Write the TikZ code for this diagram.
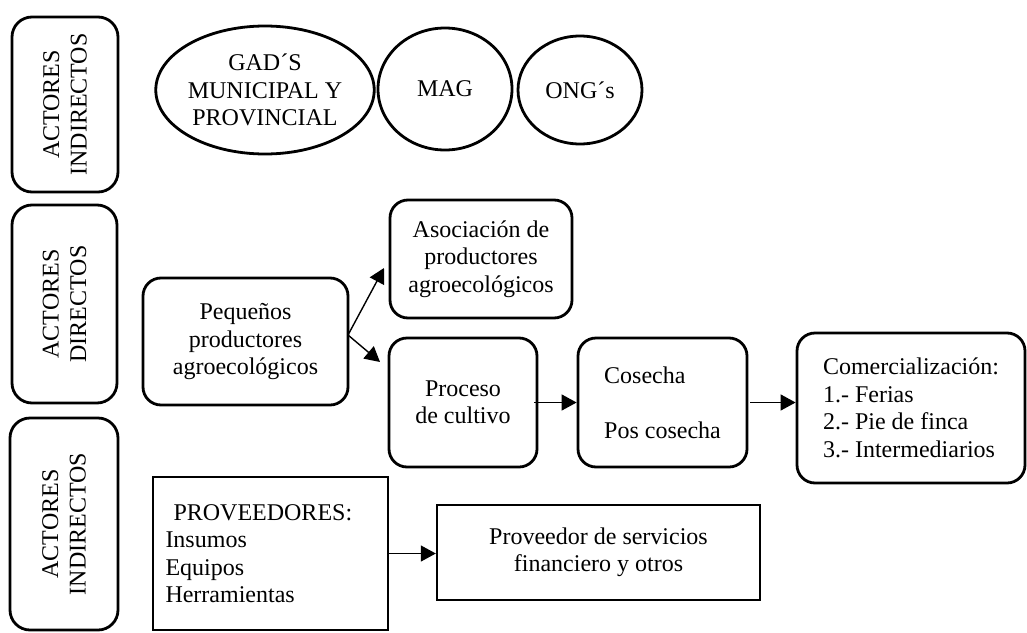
\documentclass[tikz,border=0pt]{standalone}
\usepackage{fontspec}
\setmainfont{Liberation Serif}
\usetikzlibrary{
  calc,
  arrows.meta,
  positioning,
  shapes.geometric,
}
\tikzset{
  caja/.style = {draw=black, line width=2.8pt, rounded corners=18pt,
      align=center, inner sep=0pt,
      font=\fontsize{24}{27.5}\selectfont},
  rect/.style = {caja, rounded corners=0pt, line width=2.4pt},
  actor/.style = {caja, rotate=90, rounded corners=20pt},
  elipse/.style = {ellipse, draw=black, line width=2.8pt,
      inner sep=0pt, align=center,
      font=\fontsize{24}{27.5}\selectfont},
  flecha/.style = {-{Triangle[length=15pt,width=16pt]}, line width=1.4pt},
}

\begin{document}
\begin{tikzpicture}[x=1pt, y=-1pt]
  \useasboundingbox (0,0) rectangle (1027,632);

  % columna izquierda
  \node[actor, minimum width=175pt, minimum height=106pt] (ind1) at (65,104.5) {ACTORES\\INDIRECTOS};
  \node[actor, minimum width=198pt, minimum height=105pt] (dir) at (64.5,304) {ACTORES\\DIRECTOS};
  \node[actor, minimum width=212pt, minimum height=108pt] (ind2) at (64,524) {ACTORES\\INDIRECTOS};

  % actores indirectos de arriba
  \node[elipse, minimum width=204pt, minimum height=128pt] (gad) at (265,90) {GAD´S\\MUNICIPAL Y\\PROVINCIAL};
  \node[elipse, minimum width=134pt, minimum height=122pt] (mag) at (445,89) {MAG};
  \node[elipse, minimum width=124pt, minimum height=108pt] (ong) at (580,90) {ONG´s};

  % actores directos
  \node[caja, minimum width=205pt, minimum height=127pt] (peq) at (245.5,341.5) {Pequeños\\productores\\agroecológicos};
  \node[caja, minimum width=182pt, minimum height=118pt] (aso) at (481,259) {Asociación de\\productores\\agroecológicos};
  \node[caja, minimum width=148pt, minimum height=129pt] (pro) at (463,402.5) {Proceso\\de cultivo};
  \node[caja, minimum width=169pt, minimum height=129pt, align=left] (cos) at (662.5,402.5) {Cosecha\\[27.5pt]Pos cosecha};
  \node[caja, minimum width=228pt, minimum height=150pt, align=left] (com) at (911,408) {Comercialización:\\1.- Ferias\\2.- Pie de finca\\3.- Intermediarios};

  % proveedores
  \node[rect, minimum width=235pt, minimum height=153pt, text width=210pt, align=left] (prov) at (270.5,553.5) {\ PROVEEDORES:\\Insumos\\Equipos\\Herramientas};
  \node[rect, minimum width=323pt, minimum height=95pt] (serv) at (598.5,552.5) {Proveedor de servicios\\financiero y otros};

  \coordinate (sal) at (348,335);
  \coordinate (a1) at (384,268);
  \coordinate (a2) at (380,362);

  \draw[flecha] (sal) -- (a1);
  \draw[flecha] (sal) -- (a2);
  \draw[flecha] ([xshift=-4pt]pro.east) -- (pro.east -| cos.west);
  \draw[flecha] ([xshift=2pt]cos.east) -- (cos.east -| com.west);
  \draw[flecha] (prov.east) -- (prov.east -| serv.west);
\end{tikzpicture}
\end{document}
